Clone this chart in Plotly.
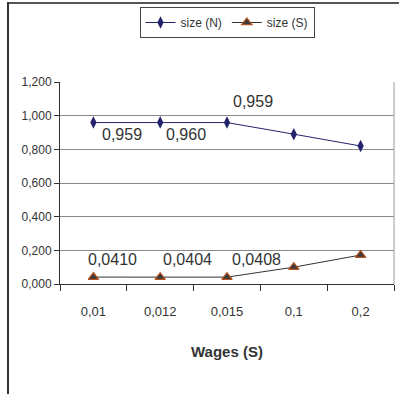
import plotly.graph_objects as go

categories = ["0,01", "0,012", "0,015", "0,1", "0,2"]
size_n = [0.959, 0.960, 0.959, 0.890, 0.820]
size_s = [0.0410, 0.0404, 0.0408, 0.100, 0.172]
labels_n = ["0,959", "0,960", "0,959"]
labels_s = ["0,0410", "0,0404", "0,0408"]
y_ticks = [0, 0.2, 0.4, 0.6, 0.8, 1.0, 1.2]

FONT = "Liberation Sans, Arial"
W, H = 399, 394
L, R, T, B = 60, 5, 82, 110
pw, ph = W - L - R, H - T - B

fig = go.Figure()
fig.add_trace(go.Scatter(
    x=categories, y=size_n, name="size (N)", mode="lines+markers",
    line=dict(color="#23236b", width=1),
    marker=dict(symbol="diamond-tall", size=9, color="#23236b"),
))
fig.add_trace(go.Scatter(
    x=categories, y=size_s, name="size (S)", mode="lines+markers",
    line=dict(color="#333333", width=1),
    marker=dict(symbol="triangle-up", size=9, color="#3a3a3a",
                line=dict(color="#b5531f", width=1.2)),
))

ann = []
n_off = [(29, -12), (26, -12), (26, 21)]
for i, t in enumerate(labels_n):
    ann.append(dict(x=categories[i], y=size_n[i], xref="x", yref="y", text=t,
                    showarrow=False, xshift=n_off[i][0], yshift=n_off[i][1],
                    font=dict(family=FONT, size=16, color="#333333")))
s_off = [(19, 18), (27, 18), (29, 18)]
for i, t in enumerate(labels_s):
    ann.append(dict(x=categories[i], y=size_s[i], xref="x", yref="y", text=t,
                    showarrow=False, xshift=s_off[i][0], yshift=s_off[i][1],
                    font=dict(family=FONT, size=16, color="#333333")))

def px_x(v):
    return (v - L) / pw

def px_y(v):
    return (H - B - v) / ph

shapes = [
    dict(type="line", xref="paper", yref="paper", x0=px_x(7), x1=px_x(399),
         y0=px_y(3), y1=px_y(3), line=dict(color="#555555", width=2)),
    dict(type="line", xref="paper", yref="paper", x0=px_x(8), x1=px_x(8),
         y0=px_y(2), y1=px_y(394), line=dict(color="#333333", width=2)),
    dict(type="line", xref="paper", yref="paper", x0=1, x1=1, y0=0, y1=1,
         line=dict(color="#9a9a9a", width=1)),
]

fig.update_layout(
    width=W, height=H,
    margin=dict(l=L, r=R, t=T, b=B, pad=0),
    paper_bgcolor="white", plot_bgcolor="white",
    separators=", ",
    font=dict(family=FONT, size=12, color="#333333"),
    showlegend=True,
    legend=dict(orientation="h", x=0.5, xanchor="center", y=px_y(7), yanchor="top",
                bordercolor="#444444", borderwidth=1, bgcolor="white",
                font=dict(family=FONT, size=12, color="#333333"),
                itemwidth=30, tracegroupgap=0),
    xaxis=dict(
        type="category", categoryorder="array", categoryarray=categories,
        showline=True, linecolor="#333333", linewidth=1, mirror=False,
        ticks="outside", tickson="boundaries", ticklen=6, tickcolor="#333333",
        ticklabelstandoff=15,
        showgrid=False, zeroline=False,
        tickfont=dict(family=FONT, size=13, color="#333333"),
        range=[-0.5, 4.5],
        title=dict(text="<b>Wages (S)</b>", standoff=28,
                   font=dict(family=FONT, size=15, color="#333333")),
    ),
    yaxis=dict(
        range=[0, 1.2], tickvals=y_ticks, tickformat=".3f",
        showline=True, linecolor="#333333", linewidth=1,
        ticks="outside", ticklen=5, tickcolor="#333333",
        showgrid=True, gridcolor="#8a8a8a", gridwidth=1, zeroline=False,
        tickfont=dict(family=FONT, size=12, color="#333333"),
    ),
    annotations=ann,
    shapes=shapes,
)

fig.write_html("out.html")
